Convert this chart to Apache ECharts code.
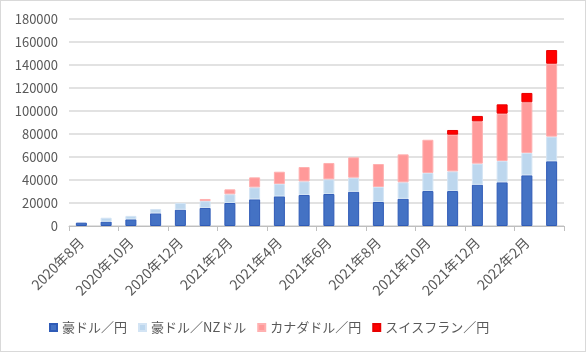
<!DOCTYPE html>
<html><head><meta charset="utf-8">
<script src="https://cdn.jsdelivr.net/npm/echarts@6/dist/echarts.min.js"></script>
<style>
html,body{margin:0;padding:0;background:#fff;}
#c{width:586px;height:352px;box-sizing:border-box;border:1px solid #d9d9d9;}
</style></head>
<body><div id="c"></div>
<script>
const categories = ['2020年8月','2020年9月','2020年10月','2020年11月','2020年12月',
  '2021年1月','2021年2月','2021年3月','2021年4月','2021年5月','2021年6月','2021年7月',
  '2021年8月','2021年9月','2021年10月','2021年11月','2021年12月',
  '2022年1月','2022年2月','2022年3月'];
const seriesNames = ['豪ドル／円','豪ドル／NZドル','カナダドル／円','スイスフラン／円'];
const audJpy = [2900,3800,5800,11000,14200,15700,20000,23200,25800,27000,27800,29800,20900,23700,30400,30400,35900,38000,44100,56300];
const audNzd = [0,3400,3000,3800,5800,6000,7600,10400,10700,11800,12800,12200,13000,14300,15700,17100,18300,18500,19400,21400];
const cadJpy = [0,0,0,0,0,1800,4300,8700,10700,12500,14200,17700,20000,24300,28900,31900,36800,41200,44100,63400];
const chfJpy = [0,0,0,0,0,0,0,0,0,0,0,0,0,0,0,4100,4700,8100,8100,11900];
const yTicks = [0,20000,40000,60000,80000,100000,120000,140000,160000,180000];

const colors = ['#4472C4','#BDD7EE','#FF9999','#FF0000'];
const borders = ['#2F5BB7','#D3E4F4','#FFB0B0','#E80000'];
const dataSets = [audJpy, audNzd, cadJpy, chfJpy];
const font = '"Noto Sans CJK JP", "Liberation Sans", sans-serif';

const chart = echarts.init(document.getElementById('c'));
chart.setOption({
  animation: false,
  grid: {left: 68, right: 21, top: 18, bottom: 125},
  legend: {
    bottom: 12, left: 43,
    itemWidth: 7, itemHeight: 7, itemGap: 11,
    icon: 'rect',
    textStyle: {color: '#595959', fontSize: 13, fontFamily: font},
    data: seriesNames
  },
  xAxis: {
    type: 'category', data: categories,
    axisLine: {lineStyle: {color: '#bfbfbf', width: 1}},
    axisTick: {show: true, interval: 1, length: 5, lineStyle: {color: '#bfbfbf'}},
    axisLabel: {interval: 1, rotate: 45, color: '#595959', fontSize: 14, fontFamily: font, margin: 14}
  },
  yAxis: {
    type: 'value', min: yTicks[0], max: yTicks[yTicks.length-1], interval: yTicks[1]-yTicks[0],
    axisLine: {show: false}, axisTick: {show: false},
    axisLabel: {color: '#595959', fontSize: 13, fontFamily: font, margin: 11,
      formatter: v => String(v)},
    splitLine: {lineStyle: {color: '#d9d9d9', width: 1.5}}
  },
  series: dataSets.map((d, i) => ({
    name: seriesNames[i], type: 'bar', stack: 'total', barWidth: 11,
    data: d.map(v => v === 0 ? '-' : v),
    itemStyle: {color: colors[i], borderColor: borders[i], borderWidth: 1}
  }))
});
</script></body></html>
